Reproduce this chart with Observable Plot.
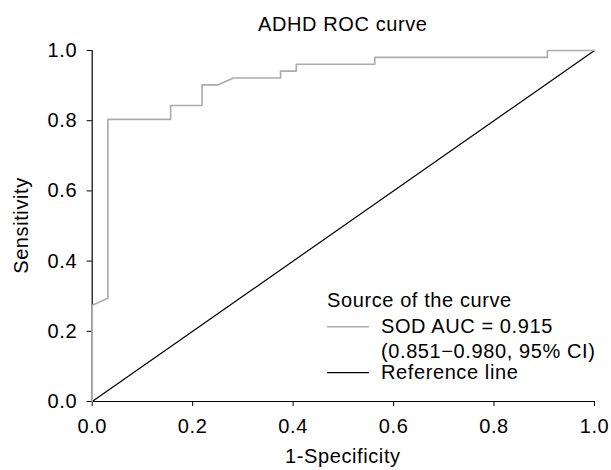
<!DOCTYPE html>
<html>
<head>
<meta charset="utf-8">
<script src="https://cdn.jsdelivr.net/npm/d3@7"></script>
<script src="https://cdn.jsdelivr.net/npm/@observablehq/plot@0.6"></script>
<style>
  html, body { margin: 0; padding: 0; background: #fff; }
  svg text { font-family: "Liberation Sans", Arial, Helvetica, sans-serif; letter-spacing: 0.6px; }
</style>
</head>
<body>
<div id="chart"></div>
<script>
// ROC curve points (1-Specificity, Sensitivity)
const fpr = [0, 0, 0.03125, 0.03125, 0.15625, 0.15625, 0.21875, 0.21875, 0.25, 0.28125, 0.375, 0.375, 0.40625, 0.40625, 0.5625, 0.5625, 0.90625, 0.90625, 1];
const tpr = [0, 0.2745, 0.2941, 0.8039, 0.8039, 0.8431, 0.8431, 0.9020, 0.9020, 0.9216, 0.9216, 0.9412, 0.9412, 0.9608, 0.9608, 0.9804, 0.9804, 1, 1];
// Reference (chance) line
const refX = [0, 1];
const refY = [0, 1];
// Axis ticks
const xTicks = [0, 0.2, 0.4, 0.6, 0.8, 1.0];
const yTicks = [0, 0.2, 0.4, 0.6, 0.8, 1.0];
// Texts
const title = "ADHD ROC curve";
const xLabel = "1-Specificity";
const yLabel = "Sensitivity";
const legendTitle = "Source of the curve";
const legendItems = [
  {lines: ["SOD AUC = 0.915", "(0.851\u22120.980, 95% CI)"], color: "#ababab", width: 1.5},
  {lines: ["Reference line"], color: "#000000", width: 1.2}
];

const curve = fpr.map((x, i) => ({x, y: tpr[i]}));
const ref = refX.map((x, i) => ({x, y: refY[i]}));

const W = 611, H = 470;
const mL = 91.7, mR = 17, mT = 50, mB = 69;
const fmt = d => d.toFixed(1);

const plot = Plot.plot({
  width: W, height: H,
  marginLeft: mL, marginRight: mR, marginTop: mT, marginBottom: mB,
  style: {fontFamily: "'Liberation Sans', Arial, sans-serif", fontSize: "20px", color: "#000", background: "#fff", overflow: "visible"},
  x: {domain: [0, 1]},
  y: {domain: [0, 1]},
  marks: [
    Plot.axisX({ticks: xTicks, tickFormat: fmt, tickSize: 5, tickPadding: 12, label: null, fontSize: 20}),
    Plot.axisY({ticks: yTicks, tickFormat: fmt, tickSize: 5, tickPadding: 10, label: null, fontSize: 20}),
    Plot.ruleY([0], {stroke: "#000", strokeWidth: 1.2}),
    Plot.ruleX([0], {stroke: "#000", strokeWidth: 1.2}),
    Plot.line(ref, {x: "x", y: "y", stroke: "#000", strokeWidth: 1.2}),
    Plot.line(curve, {x: "x", y: "y", stroke: "#ababab", strokeWidth: 1.6})
  ]
});

const svg = d3.select(plot);
// Title
svg.append("text").attr("x", (mL + W - mR) / 2).attr("y", 31)
  .attr("text-anchor", "middle").attr("font-size", 20).attr("fill", "#000").text(title);
// X label
svg.append("text").attr("x", (mL + W - mR) / 2).attr("y", 462.7)
  .attr("text-anchor", "middle").attr("font-size", 20).attr("fill", "#000").text(xLabel);
// Y label
svg.append("text").attr("transform", `translate(28,${(mT + H - mB) / 2}) rotate(-90)`)
  .attr("text-anchor", "middle").attr("font-size", 20).attr("fill", "#000").text(yLabel);

// Legend
const lg = svg.append("g").attr("font-size", 20).attr("fill", "#000").attr("text-anchor", "start");
lg.append("text").attr("x", 327).attr("y", 306.7).text(legendTitle);
const entryY = [333.3, 379.3];
legendItems.forEach((item, i) => {
  const base = entryY[i];
  lg.append("line").attr("x1", 327).attr("x2", 369)
    .attr("y1", base - 6.6).attr("y2", base - 6.6)
    .attr("stroke", item.color).attr("stroke-width", item.width);
  item.lines.forEach((t, j) => {
    lg.append("text").attr("x", 381).attr("y", base + j * 25).text(t);
  });
});

document.getElementById("chart").appendChild(plot);
</script>
</body>
</html>
